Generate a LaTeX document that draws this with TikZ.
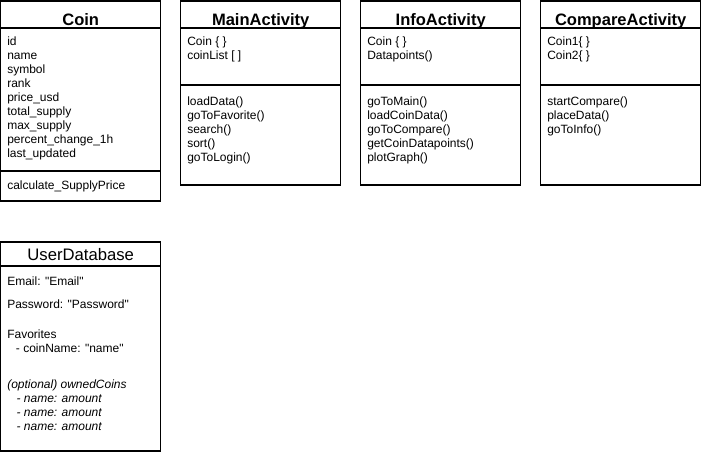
\documentclass[tikz,border=0pt]{standalone}
\usepackage{fontspec}
\setmainfont{Liberation Sans}
\usetikzlibrary{positioning}

\tikzset{
    classbox/.style = {draw, line width=1pt, inner sep=0pt, outer sep=0pt, minimum width=120pt},
    classname/.style = {anchor=base, inner sep=0pt, font=\fontsize{12.4}{14}\selectfont\bfseries},
    members/.style = {anchor=north west, align=left, inner sep=0pt, font=\fontsize{9}{10.5}\selectfont},
    divider/.style = {line width=1pt}
}

\begin{document}
\begin{tikzpicture}[x=0.75pt, y=-0.75pt]
            \useasboundingbox (0,0) rectangle (701,455);

            % Boxes
            \node[classbox, minimum height=150pt, anchor=north west] (coin) at (0.7,1) {};
            \node[classbox, minimum height=138pt, right=15pt of coin.north east, anchor=north west] (main) {};
            \node[classbox, minimum height=138pt, right=15pt of main.north east, anchor=north west] (info) {};
            \node[classbox, minimum height=138pt, right=15pt of info.north east, anchor=north west] (compare) {};
            \node[classbox, minimum height=156.75pt, anchor=north west] (userdb) at (0.7,242) {};

            % Dividers
            \draw[divider] (coin.west |- 0,28) -- (coin.east |- 0,28);
            \draw[divider] (coin.west |- 0,171) -- (coin.east |- 0,171);
            \foreach \cls in {main, info, compare} {
                \draw[divider] (\cls.west |- 0,28) -- (\cls.east |- 0,28);
                \draw[divider] (\cls.west |- 0,85) -- (\cls.east |- 0,85);
            }
            \draw[divider] (userdb.west |- 0,266) -- (userdb.east |- 0,266);

            % Class names
            \node[classname] (coinname) at (coin.north |- 0,25) {Coin};
            \node[classname] (mainname) at (main.north |- 0,25) {MainActivity};
            \node[classname] (infoname) at (info.north |- 0,25) {InfoActivity};
            \node[classname] (comparename) at (compare.north |- 0,25) {CompareActivity};
            \node[classname, font=\fontsize{12.5}{14}\selectfont] (userdbname) at (userdb.north |- 0,260) {UserDatabase};

            % Attributes
            \node[members] (coinattr) at (7,37) {id\\name\\symbol\\rank\\price\_usd\\total\_supply\\max\_supply\\percent\_change\_1h\\last\_updated};
            \node[members] (mainattr) at (187,37) {Coin \{ \}\\coinList [ ]};
            \node[members] (infoattr) at (367,37) {Coin \{ \}\\Datapoints()};
            \node[members] (compareattr) at (547,37) {Coin1\{ \}\\Coin2\{ \}};

            % Methods
            \node[members] (coinops) at (7,181) {calculate\_SupplyPrice};
            \node[members] (mainops) at (187,97) {loadData()\\goToFavorite()\\search()\\sort()\\goToLogin()};
            \node[members] (infoops) at (367,97) {goToMain()\\loadCoinData()\\goToCompare()\\getCoinDatapoints()\\plotGraph()};
            \node[members] (compareops) at (547,97) {startCompare()\\placeData()\\goToInfo()};

            % User database
            \node[members] (email) at (7,276.5) {Email: \textquotedbl Email\textquotedbl};
            \node[members] (password) at (7,299.5) {Password: \textquotedbl Password\textquotedbl};
            \node[members] (favorites) at (7,329.5) {Favorites\\\hspace*{6.5pt}- coinName: \textquotedbl name\textquotedbl};
            \node[members, font=\fontsize{9}{10.5}\selectfont\itshape] (owned) at (7,379.5) {(optional) ownedCoins\\\hspace*{7pt}- name: amount\\\hspace*{7pt}- name: amount\\\hspace*{7pt}- name: amount};
        \end{tikzpicture}
\end{document}
